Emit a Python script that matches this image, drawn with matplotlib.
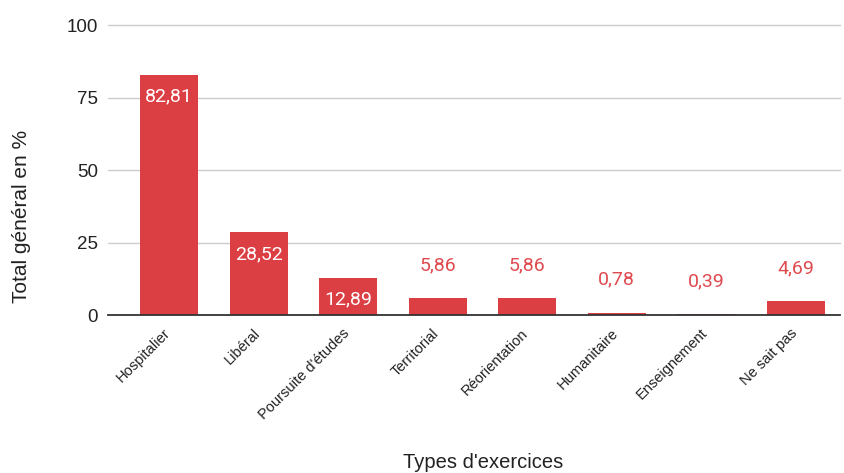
import numpy as np
import matplotlib.pyplot as plt
from matplotlib import transforms

categories = ["Hospitalier", "Libéral", "Poursuite d'études", "Territorial",
              "Réorientation", "Humanitaire", "Enseignement", "Ne sait pas"]
values = [82.81, 28.52, 12.89, 5.86, 5.86, 0.78, 0.39, 4.69]
y_ticks = [0, 25, 50, 75, 100]

bar_color = "#db3e43"
label_red = "#df4a4f"

plt.rcParams['font.family'] = ['Roboto', 'DejaVu Sans']

fig = plt.figure(figsize=(8.45, 4.73), dpi=100)
ax = fig.add_axes([124.5 / 845, 1 - 315 / 473, 716 / 845, 290 / 473])

x = np.arange(len(categories))
ax.bar(x, values, width=0.65, color=bar_color, zorder=3)

ax.set_xlim(-0.5, len(categories) - 0.5)
ax.set_ylim(0, 100)

# horizontal gridlines that run a little past the left edge
ext = -16 / 716
for t in y_ticks:
    if t == 0:
        ax.axhline(t, xmin=ext, xmax=1, color="#333333", lw=1.3, zorder=4, clip_on=False)
    else:
        ax.axhline(t, xmin=ext, xmax=1, color="#cccccc", lw=1.0, zorder=1, clip_on=False)

ax.set_yticks(y_ticks)
ax.set_yticklabels([str(t) for t in y_ticks], fontsize=13.5, family='Liberation Sans',
                   color="#222222")
ax.tick_params(axis='y', length=0, pad=19)

ax.set_xticks(x)
ax.set_xticklabels(categories, rotation=45, ha='right', rotation_mode='anchor',
                   fontsize=10.5, family='Liberation Sans', color="#222222")
ax.tick_params(axis='x', length=0, pad=8)
offset = transforms.ScaledTranslation(-6 / 100, 0, fig.dpi_scale_trans)
for lbl in ax.get_xticklabels():
    lbl.set_transform(lbl.get_transform() + offset)

for s in ax.spines.values():
    s.set_visible(False)

# value labels: white inside tall bars, red above short ones
for xi, v in zip(x, values):
    txt = f"{v:.2f}".replace(".", ",")
    if v > 10:
        ax.annotate(txt, (xi, v), xytext=(0, -22), textcoords='offset pixels',
                    ha='center', va='center', fontsize=14, color='white', zorder=5)
    else:
        ax.annotate(txt, (xi, v), xytext=(0, 33), textcoords='offset pixels',
                    ha='center', va='center', fontsize=14, color=label_red, zorder=5)

fig.text(22 / 845, 1 - 216 / 473, "Total général en %", rotation=90, ha='center',
         va='center', fontsize=15, family='Liberation Sans', color="#222222")
fig.text(483 / 845, 1 - 462 / 473, "Types d'exercices", ha='center', va='center',
         fontsize=14.5, family='Liberation Sans', color="#222222")

fig.savefig("out.png", dpi=100, facecolor='white')
